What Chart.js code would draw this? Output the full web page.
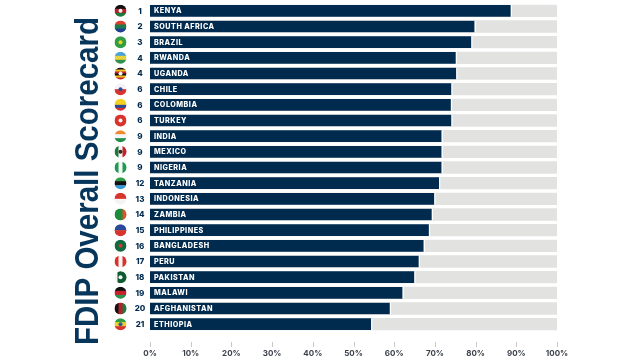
<!DOCTYPE html>
<html>
<head>
<meta charset="utf-8">
<script src="https://cdn.jsdelivr.net/npm/chart.js@4"></script>
<style>
  html, body { margin: 0; padding: 0; background: #fff; overflow: hidden; }
  canvas { display: block; }
</style>
</head>
<body>
<canvas id="scorecard" width="640" height="360"></canvas>
<script>
const chartTitle = "FDIP Overall Scorecard";
const countries = ["KENYA", "SOUTH AFRICA", "BRAZIL", "RWANDA", "UGANDA", "CHILE", "COLOMBIA", "TURKEY", "INDIA", "MEXICO", "NIGERIA", "TANZANIA", "INDONESIA", "ZAMBIA", "PHILIPPINES", "BANGLADESH", "PERU", "PAKISTAN", "MALAWI", "AFGHANISTAN", "ETHIOPIA"];
const ranks = [1, 2, 3, 4, 4, 6, 6, 6, 9, 9, 9, 12, 13, 14, 15, 16, 17, 18, 19, 20, 21];
const scores = [88.9, 80, 79.2, 75.4, 75.5, 74.3, 74.2, 74.3, 71.9, 71.9, 71.9, 71.3, 70.1, 69.5, 68.8, 67.5, 66.3, 65.2, 62.3, 59.2, 54.6];
const fullScale = [100, 100, 100, 100, 100, 100, 100, 100, 100, 100, 100, 100, 100, 100, 100, 100, 100, 100, 100, 100, 100];
const xTicks = [0, 10, 20, 30, 40, 50, 60, 70, 80, 90, 100];

// stripe colours of each flag, top to bottom or left to right
const flagStripes = [
  ["#111", "#b5202a", "#1d7a3c"], ["#d8402f", "#1f7a4a", "#1f3f8f"], ["#2f9e44"],
  ["#4aa3d8", "#e8d33a", "#2f8f4e"], ["#111", "#f0c020", "#c8202a", "#111", "#f0c020", "#c8202a"],
  ["#f4f4f4", "#d8342c"], ["#f5d020", "#f5d020", "#2a4a9a", "#d8342c"], ["#d8342c"],
  ["#f08a30", "#f6f6f6", "#1f8f4a"], ["#1f7a3c", "#f4f4f4", "#c8202a"], ["#1f9a50", "#f6f6f6", "#1f9a50"],
  ["#2f9e44", "#111", "#3a9ad8"], ["#d8342c", "#f4f4f4"], ["#1f8a3c", "#1f8a3c", "#d8542c"],
  ["#2a4a9a", "#d8342c"], ["#0f6a42"], ["#d8342c", "#f6f6f6", "#d8342c"],
  ["#f4f4f4", "#0f5a30", "#0f5a30", "#0f5a30"], ["#111", "#c8202a", "#2f8f4e"], ["#111", "#b5202a", "#1d7a3c"],
  ["#2f9e44", "#f0d020", "#d8342c"]
];
const verticalFlags = ["MEXICO", "NIGERIA", "ZAMBIA", "PERU", "PAKISTAN", "AFGHANISTAN"];
const flagSpots = { "BRAZIL": "#f0d020", "CHILE": "#2a4a9a", "TURKEY": "#f6f6f6", "BANGLADESH": "#d8342c", "ETHIOPIA": "#2a5aa8", "MEXICO": "#3a2a1a", "UGANDA": "#f4f4f4", "KENYA": "#f4f4f4", "PAKISTAN": "#f4f4f4" };

const navy = "#002b4f";
const grey = "#e2e2e1";

const rowPlugin = {
  id: "rowPlugin",
  afterDatasetsDraw(chart) {
    const ctx = chart.ctx;
    const y = chart.scales.y;
    const x = chart.scales.x;
    const left = chart.chartArea.left;
    ctx.save();
    ctx.textBaseline = "middle";
    countries.forEach((name, i) => {
      const cy = y.getPixelForValue(i);
      // label inside the bar
      ctx.font = "800 7.2px Inter";
      ctx.letterSpacing = "0.5px";
      ctx.textAlign = "left";
      ctx.fillStyle = "#fff";
      ctx.fillText(name, left + 4, cy + 0.5);
      // rank
      ctx.font = "800 8px Inter";
      ctx.letterSpacing = "0px";
      ctx.textAlign = "center";
      ctx.fillStyle = navy;
      ctx.fillText(String(ranks[i]), left - 10, cy + 0.5);
      // flag
      const fx = left - 29.5;
      const r = 6;
      const stripes = flagStripes[i];
      const vertical = verticalFlags.includes(name);
      ctx.save();
      ctx.beginPath();
      ctx.arc(fx, cy, r, 0, Math.PI * 2);
      ctx.clip();
      stripes.forEach((c, s) => {
        ctx.fillStyle = c;
        const step = (r * 2) / stripes.length;
        if (vertical) ctx.fillRect(fx - r + s * step, cy - r, step + 0.5, r * 2);
        else ctx.fillRect(fx - r, cy - r + s * step, r * 2, step + 0.5);
      });
      if (flagSpots[name]) {
        ctx.fillStyle = flagSpots[name];
        ctx.beginPath();
        ctx.arc(fx, cy, 2, 0, Math.PI * 2);
        ctx.fill();
      }
      ctx.restore();
    });
    // tick marks float below the bars
    ctx.strokeStyle = "#c9c9c9";
    ctx.lineWidth = 1;
    xTicks.forEach((t) => {
      const px = Math.round(x.getPixelForValue(t)) + 0.5;
      ctx.beginPath();
      ctx.moveTo(px, chart.chartArea.bottom + 10);
      ctx.lineTo(px, chart.chartArea.bottom + 15);
      ctx.stroke();
    });
    // title is squeezed along its length like the original
    ctx.translate(97.5, 181);
    ctx.rotate(-Math.PI / 2);
    ctx.font = "700 34px 'Liberation Sans'";
    ctx.textAlign = "center";
    ctx.textBaseline = "alphabetic";
    ctx.fillStyle = "#07365c";
    ctx.fillText(chartTitle, 0, 0, 328);
    ctx.restore();
  },
};

new Chart(document.getElementById("scorecard"), {
  type: "bar",
  data: {
    labels: countries,
    datasets: [
      {
        label: "Score",
        data: scores,
        backgroundColor: navy,
        borderColor: "#ffffff",
        borderWidth: { right: 1.5 },
        borderSkipped: false,
        barThickness: 11.6,
        order: 1,
      },
      {
        label: "Scale",
        data: fullScale,
        backgroundColor: grey,
        barThickness: 11.6,
        order: 2,
      },
    ],
  },
  options: {
    indexAxis: "y",
    responsive: false,
    animation: false,
    layout: { padding: { left: 150, right: 83, top: 3, bottom: 0 } },
    scales: {
      x: {
        min: 0,
        max: 100,
        afterBuildTicks: (axis) => { axis.ticks = xTicks.map((v) => ({ value: v })); },
        afterFit: (axis) => { axis.height = 28; },
        border: { display: false },
        grid: { display: false },
        ticks: {
          padding: 9,
          maxRotation: 0,
          autoSkip: false,
          color: "#3a3f4a",
          font: { family: "Inter", size: 8, weight: "700" },
          callback: (v) => v + "%",
        },
      },
      y: {
        display: false,
        grid: { display: false },
      },
    },
    datasets: { bar: { grouped: false } },
    plugins: {
      legend: { display: false },
      tooltip: { enabled: false },
    },
  },
  plugins: [rowPlugin],
});
</script>
</body>
</html>
